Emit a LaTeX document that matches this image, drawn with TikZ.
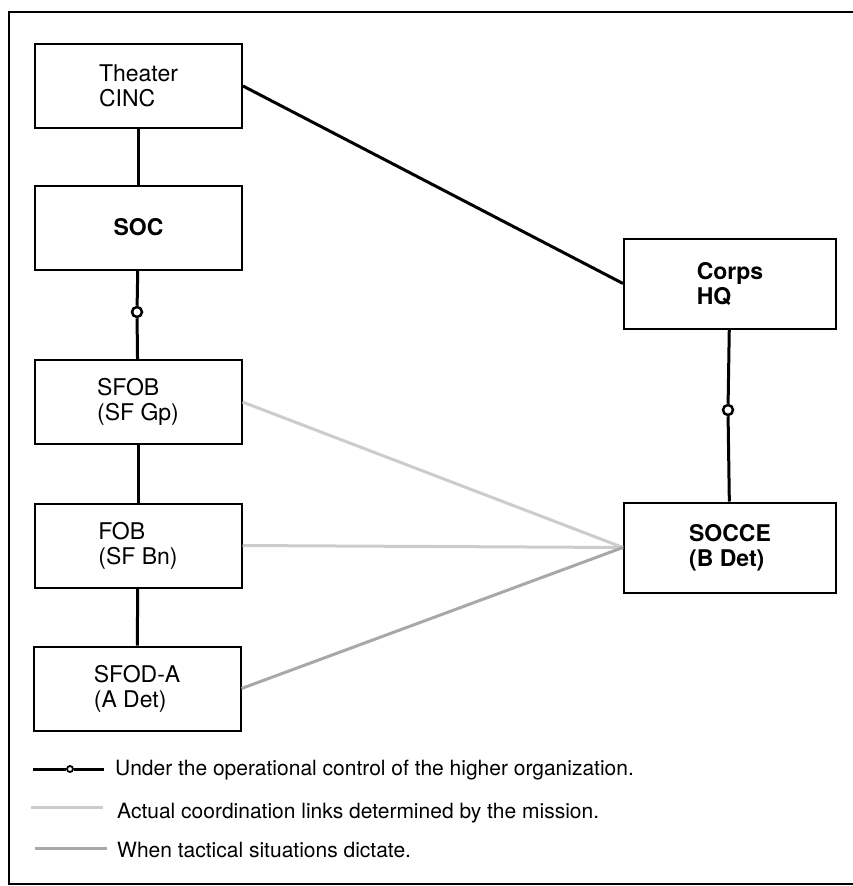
\documentclass[tikz,border=0pt]{standalone}
\usepackage{fontspec}
\setmainfont{TeX Gyre Heros}
\definecolor{linkgray}{gray}{0.80}
\definecolor{tacgray}{gray}{0.66}
\begin{document}
\begin{tikzpicture}[x=1pt,y=-1pt,
	unit/.style={draw,line width=2pt,minimum width=207pt,minimum height=84pt,align=left,font=\fontsize{23}{25}\selectfont},
	hq/.style={unit,minimum width=212pt,minimum height=90pt,font=\fontsize{23}{25}\selectfont\bfseries},
	ring/.style={draw,circle,line width=2.5pt,minimum size=10pt,inner sep=0pt,fill=white},
	command/.style={line width=3pt},
	coord/.style={linkgray,line width=3pt},
	tactical/.style={tacgray,line width=3pt},
	legend/.style={anchor=base west,inner sep=0pt,font=\fontsize{21}{23}\selectfont}]
	\useasboundingbox (0,0) rectangle (853,886);
	\draw[line width=1.8pt] (853,12) -- (9,12) -- (9,884) -- (853,884);

	\node[unit] at (138.5,86) (cinc) {Theater\\CINC};
	\node[unit,font=\fontsize{23}{25}\selectfont\bfseries] at (138.5,227.5) (soc) {SOC};
	\node[unit] at (138,402) (sfob) {SFOB\\(SF Gp)};
	\node[unit] at (138,545.5) (fob) {FOB\\(SF Bn)};
	\node[unit] at (137,688.5) (sfoda) {SFOD-A\\(A Det)};

	\node[hq] at (730,283.5) (corps) {Corps\\HQ};
	\node[hq] at (730,547.5) (socce) {SOCCE\\(B Det)};

	\node[ring] at (137,312) (opcon1) {};
	\node[ring] at (728,410) (opcon2) {};

	\draw[command]	(cinc) -- (soc);
	\draw[command]	(soc) -- (opcon1) -- (sfob);
	\draw[command]	(sfob) -- (fob);
	\draw[command]	(fob) -- (sfoda);
	\draw[command]	(cinc.east) -- (corps.west);
	\draw[command]	(corps) -- (opcon2) -- (socce);
	\draw[coord]	(sfob.east) -- (socce.west);
	\draw[coord]	(fob.east) -- (socce.west);
	\draw[tactical]	(sfoda.east) -- (socce.west);

	% legend
	\coordinate (k1a) at (33,769);
	\coordinate (k1b) at (104,769);
	\node[ring,minimum size=6pt,line width=1.8pt] at (70,769) (k1) {};
	\draw[command]	(k1a) -- (k1) -- (k1b);
	\node[legend] at (115,775) (t1) {Under the operational control of the higher organization.};

	\coordinate (k2a) at (31,807);
	\coordinate (k2b) at (103,807);
	\draw[coord]	(k2a) -- (k2b);
	\node[legend] at (117,818) (t2) {Actual coordination links determined by the mission.};

	\coordinate (k3a) at (35,848);
	\coordinate (k3b) at (107,848);
	\draw[tactical]	(k3a) -- (k3b);
	\node[legend] at (117,857) (t3) {When tactical situations dictate.};
\end{tikzpicture}
\end{document}
